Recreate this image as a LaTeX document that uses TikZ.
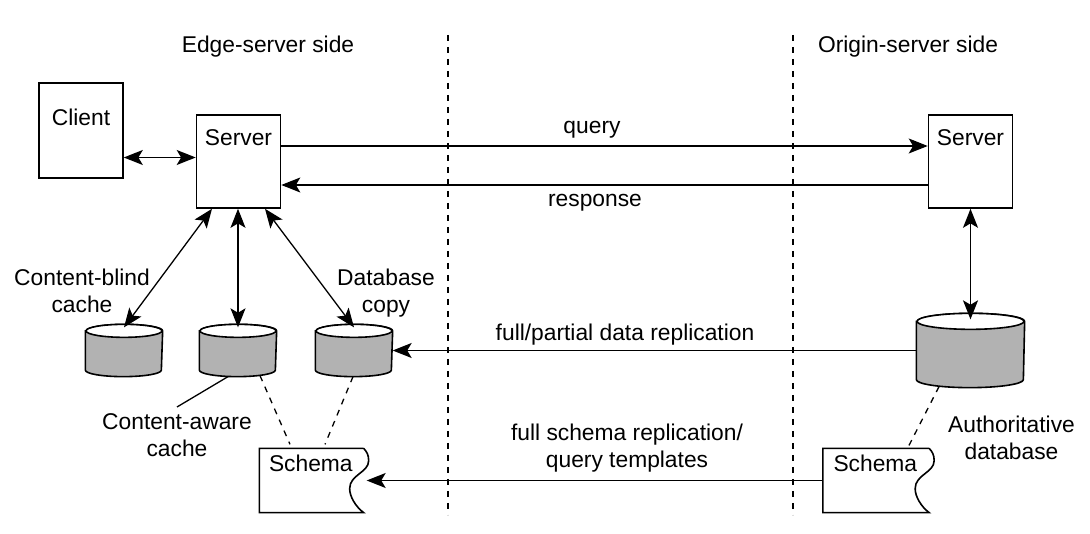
\documentclass[tikz,border=0pt]{standalone}
\usepackage{fontspec}
\setmainfont{Liberation Sans}
\usetikzlibrary{calc,arrows.meta}
\definecolor{dbgray}{gray}{0.7}
\tikzstyle{box}     = [rectangle, draw, line width=0.8pt, minimum width=42pt,
                       inner xsep=0pt, text height=8.2pt]
\tikzstyle{srv}     = [box, inner ysep=7pt, text depth=24.3pt]
\tikzstyle{schema}  = [rectangle, inner xsep=4.5pt, inner ysep=3pt, text width=42.5pt,
                       align=left, text height=8.2pt, text depth=17.3pt]
\tikzstyle{dbnode}  = [rectangle, inner sep=0pt]
\tikzstyle{dbbody}  = [draw, fill=dbgray, line width=0.8pt]
\tikzstyle{dbtop}   = [draw, fill=white, line width=0.8pt]
\tikzstyle{lbl}     = [anchor=north, inner sep=0pt, align=center]
\tikzstyle{arr}     = [draw, -{Stealth[length=9.5pt,width=7.5pt,inset=2.2pt]}]
\tikzstyle{both}    = [draw, {Stealth[length=9.5pt,width=7.5pt,inset=2.2pt]}-{Stealth[length=9.5pt,width=7.5pt,inset=2.2pt]}]
\tikzstyle{divider} = [draw, dashed, line width=0.8pt]
% cylinder: name, position, width, height, end radius
\newcommand{\dbcyl}[5]{
  \node[dbnode, minimum width=#3, minimum height=#4] (#1) at (#2) {};
  \draw[dbbody] ([yshift=-#5]#1.north west) -- ([yshift=#5]#1.south west)
    arc[start angle=180, end angle=360, x radius=#3/2, y radius=#5]
    -- ([yshift=-#5]#1.north east)
    arc[start angle=0, end angle=180, x radius=#3/2, y radius=#5] -- cycle;
  \draw[dbtop] ([yshift=-#5]#1.north) ellipse[x radius=#3/2, y radius=#5];
}
% page with a wavy right edge round a schema node
\newcommand{\docshape}[1]{
  \draw[line width=0.8pt] (#1.north east) -- (#1.north west) -- (#1.south west) -- (#1.south east)
    .. controls ($(#1.south east)+(-8,6)$) and ($(#1.south east)+(-14,16)$) .. ($(#1.south east)+(-14,24)$)
    .. controls ($(#1.south east)+(-14,38)$) and ($(#1.south east)+(5,40)$) .. ($(#1.south east)+(5,52)$)
    .. controls ($(#1.south east)+(5,58)$) and ($(#1.south east)+(3,61)$) .. (#1.north east);
}

\begin{document}
\begin{tikzpicture}[x=0.5pt, y=0.5pt, line width=0.65pt,
		every node/.style={font=\fontsize{11.4}{13.5}\selectfont}]
		\useasboundingbox (0,0) rectangle (1090,534);

		% two sides
		\node[anchor=base] (edgeside) at (268,481) {Edge-server side};
		\node[anchor=base] (originside) at (908,481) {Origin-server side};
		\draw[divider] (448,499) -- (448,19);
		\draw[divider] (793,499) -- (793,19);

		% boxes
		\node[box, inner ysep=13pt, text depth=13.3pt] (client) at (81,403.5) {Client};
		\node[srv] (es) at (238.5,372.5) {Server};
		\node[srv] (os) at (970.5,372.5) {Server};

		% databases
		\dbcyl{cb}{124,183.5}{38pt}{25.5pt}{3.25pt}
		\dbcyl{ca}{238,183.5}{38pt}{25.5pt}{3.25pt}
		\dbcyl{dc}{354,183.5}{38pt}{25.5pt}{3.25pt}
		\dbcyl{ad}{970.5,183.5}{53.5pt}{36.5pt}{4pt}

		% schemas
		\node[schema] (esch) at (311.5,53.5) {Schema};
		\node[schema, inner xsep=5pt] (osch) at (876,53.5) {Schema};
		\docshape{esch}
		\docshape{osch}

		% labels
		\node[lbl] (cblab) at (82,266) {Content-blind\\cache};
		\node[lbl] (dclab) at (386,266) {Database\\copy};
		\node[lbl] (calab) at (177,121) {Content-aware\\cache};
		\node[lbl] (adlab) at (1011.5,119) {Authoritative\\database};
		\node[lbl] (drlab) at (625,211) {full/partial data replication};
		\node[lbl] (srlab) at (627,111) {full schema replication/\\query templates};
		\node[anchor=base] (qlab) at (592,400) {query};
		\node[anchor=base] (rlab) at (595,327) {response};

		% connectors
		\path[both] ([yshift=2pt]es.west -| client.east) -- ([yshift=2pt]es.west);
		\path[arr] ([yshift=7.75pt]es.east) -- ([yshift=7.75pt]os.west);
		\path[arr] ([yshift=-11.75pt]os.west) -- ([yshift=-11.75pt]es.east);
		\path[both] ([xshift=-13.25pt]es.south) -- ([yshift=-1.5pt]cb.north);
		\path[both] (es.south -| ca.north) -- ([yshift=-1.5pt]ca.north);
		\path[both] ([xshift=13.25pt]es.south) -- ([yshift=-1.5pt]dc.north);
		\path[both] (os.south) -- ([yshift=-3pt]ad.north);
		\path[arr] (ad.west) -- (dc.east);
		\path[arr] (osch.west) -- ([xshift=1.5pt]esch.east);
		\draw ([xshift=-5pt]ca.south) -- ([yshift=3pt]calab.north);
		\draw[dashed] ([xshift=11pt,yshift=0.5pt]ca.south) -- ([xshift=-10.75pt,yshift=2pt]esch.north);
		\draw[dashed] ([xshift=-0.5pt]dc.south) -- ([xshift=6.75pt,yshift=2pt]esch.north);
		\draw[dashed] ([xshift=-15.75pt,yshift=0.5pt]ad.south) -- ([xshift=16pt,yshift=0.5pt]osch.north);
	\end{tikzpicture}
\end{document}
